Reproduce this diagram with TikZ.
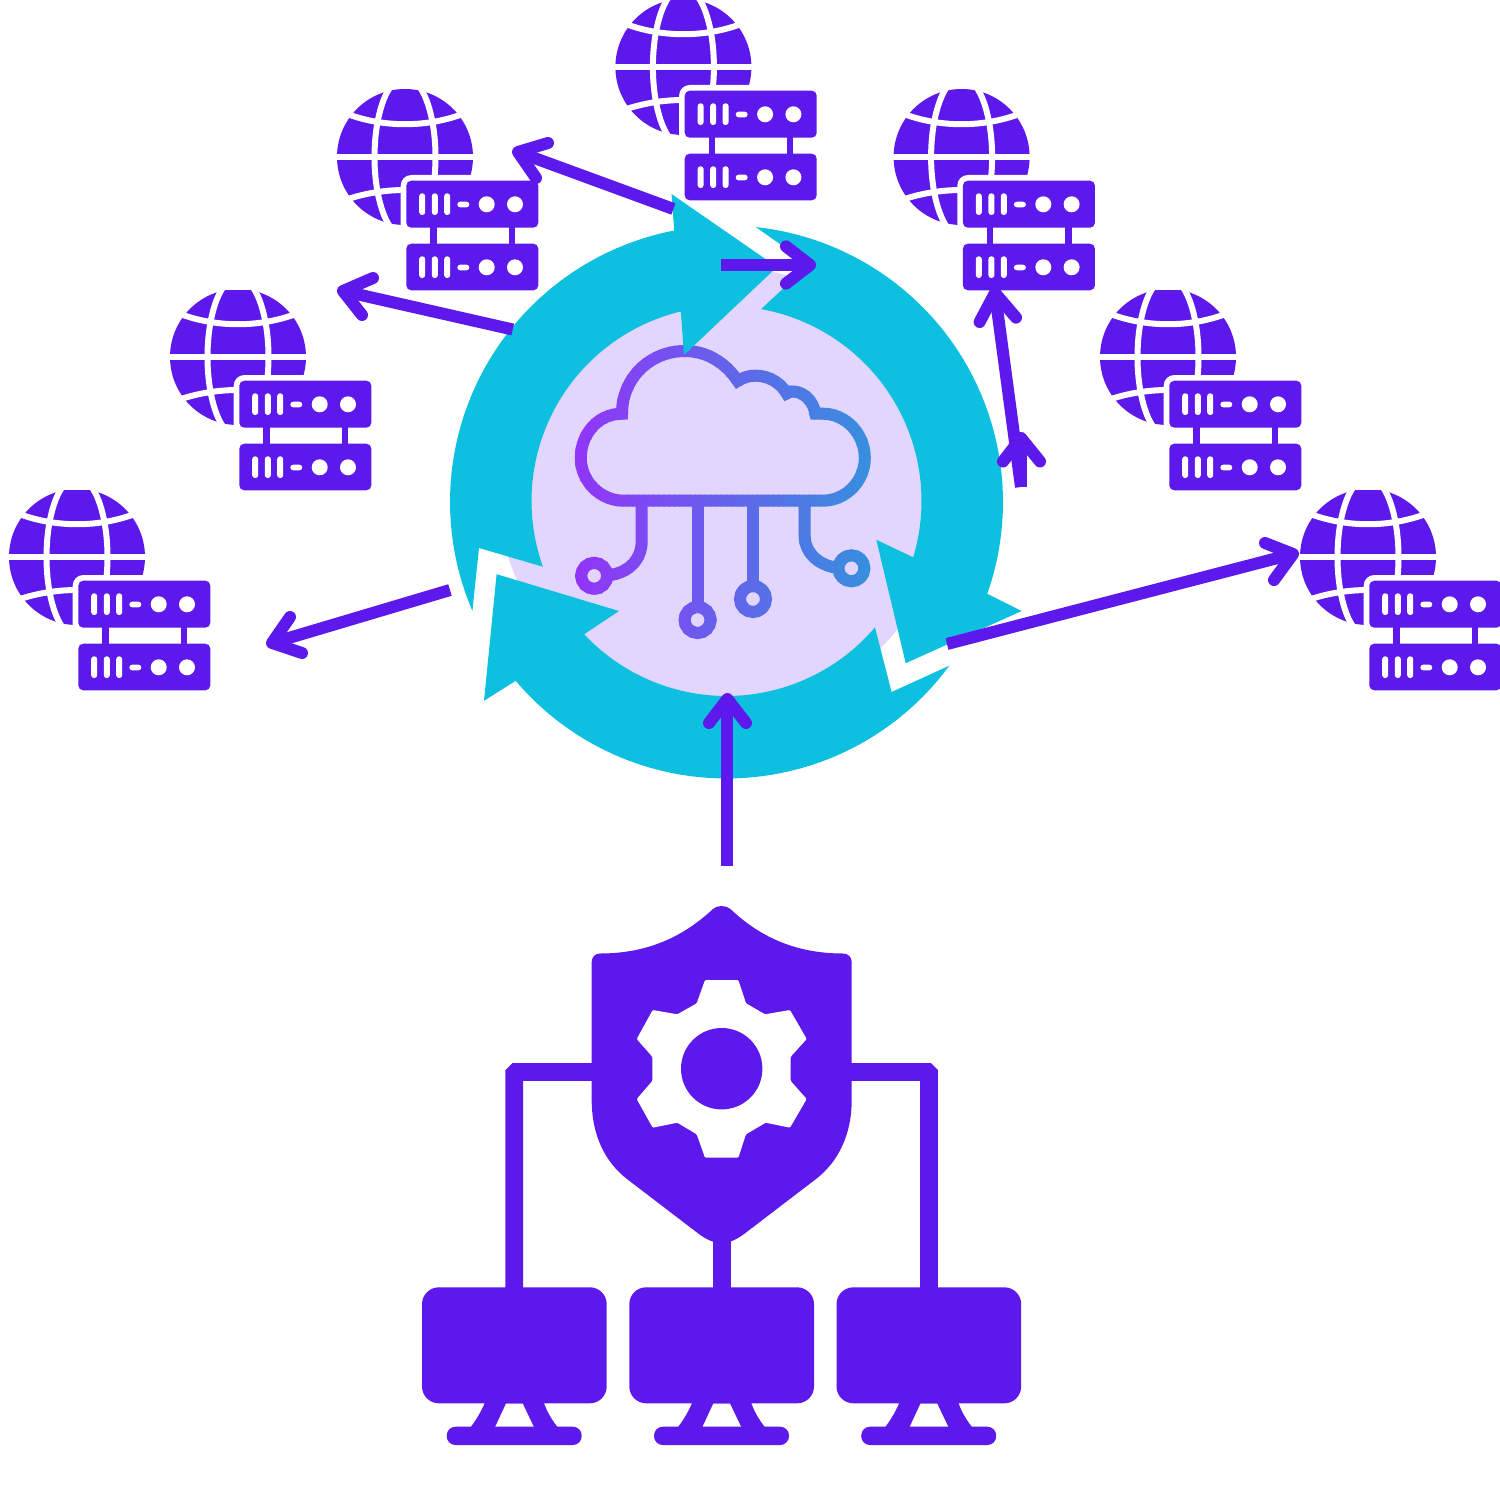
\documentclass[tikz,border=0pt]{standalone}
\definecolor{vio}{HTML}{5D18EB}
\definecolor{cya}{HTML}{0EC0E0}
\definecolor{lil}{HTML}{E2D6FF}
\definecolor{clL}{HTML}{9333F8}
\definecolor{clR}{HTML}{3492DD}
\tikzset{
  shaft/.style={draw=vio,line width=0.12cm},
  tipline/.style={draw=vio,line width=0.12cm,line cap=round,line join=round},
  pad/.style={fill=white},
  box/.style={fill=vio,rounded corners=1.4pt},
  pill/.style={fill=white,rounded corners=0.8pt},
  ring/.style={fill=cya},
  cloudline/.style={line width=12*0.01cm,line join=miter}
}
\newcommand{\globeserver}[2]{%
  \begin{scope}[shift={(#1,#2)}]
    \begin{scope}
      \clip (300,90) rectangle (500,240);
      \fill[vio] (405,157) circle[radius=68];
    \end{scope}
    \draw[white,line width=0.065cm] (335,157) -- (475,157);
    \draw[white,line width=0.06cm] (350,115) .. controls (385,127.3) and (425,127.3) .. (460,115);
    \draw[white,line width=0.06cm] (348,199) .. controls (385,187) and (425,187) .. (462,199);
    \draw[white,line width=0.06cm] (405,157) ellipse[x radius=30.5,y radius=80];
    \fill[pad,rounded corners=3pt] (400.7,175) rectangle (560,250);
    \fill[vio] (430.3,225) rectangle (436.7,246);
    \fill[vio] (508.7,225) rectangle (515,246);
    \fill[box] (406.3,180.7) rectangle (538.3,227.7);
    \fill[box] (406.3,243.7) rectangle (538.3,290.3);
    \foreach \v in {0,63}{
      \foreach \u in {419.2,431.8,444.2}{
        \fill[pill] (\u,193.3+\v) rectangle (\u+6,215+\v);
      }
      \fill[pill] (457.3,201.7+\v) rectangle (469.3,207.3+\v);
      \fill[white] (486.7,204.3+\v) circle[radius=8];
      \fill[white] (515,204.3+\v) circle[radius=8];
    }
  \end{scope}}
\newcommand{\monitor}[1]{%
  \begin{scope}[shift={(#1,0)}]
    \fill[vio,rounded corners=4.8pt] (422,1287.3) rectangle (606.7,1403.3);
    \fill[vio,even odd rule] (486,1400) .. controls (482,1410) and (477,1419) .. (470,1428)
      -- (558.3,1428) .. controls (551,1419) and (546,1410) .. (543,1400) -- cycle
      (506,1403.3) -- (495,1427) -- (534,1427) -- (522.7,1403.3) -- cycle;
    \fill[vio,rounded corners=2.5pt] (446.7,1426.7) rectangle (581.7,1445);
  \end{scope}}
\newcommand{\cloudlines}{%
  \draw[cloudline] (623.7,500.7) -- (822.7,500.7)
    .. controls (846,500.7) and (864.8,481) .. (864.8,458)
    .. controls (864.8,434) and (846,413.7) .. (822.7,413.7) -- (815.4,413.7)
    .. controls (813,400) and (803,391) .. (791,391.5) -- (786.7,393.5)
    .. controls (780,382) and (768,375.7) .. (755.7,375.7)
    .. controls (749,375.7) and (743,377.5) .. (737.7,381)
    .. controls (725,362) and (706,351) .. (685,351)
    .. controls (650,351) and (622,378) .. (622,413.7)
    .. controls (598,413.7) and (580.8,434) .. (580.8,458)
    .. controls (580.8,481) and (600,500.7) .. (623.7,500.7) -- cycle;
  \draw[cloudline] (641.7,500) -- (641.7,541) .. controls (641.7,560) and (628,574) .. (606,575.5);
  \draw[cloudline] (697.6,500) -- (697.6,607);
  \draw[cloudline] (753,500) -- (753,586);
  \draw[cloudline] (804.7,500) -- (804.7,536) .. controls (804.7,552) and (818,566) .. (839,568);
  \draw[cloudline] (594.2,575.8) circle[radius=13];
  \draw[cloudline] (697.6,620) circle[radius=13];
  \draw[cloudline] (753,599) circle[radius=13];
  \draw[cloudline] (851.4,568.3) circle[radius=13];}
\begin{document}
\begin{tikzpicture}[x=0.01cm,y=-0.01cm]
\useasboundingbox (0,0) rectangle (1500,1500);
\fill[white] (0,0) rectangle (1500,1500);

% lilac disc and cloud
\fill[lil] (722,490) circle[radius=224];
\foreach \i in {0,...,59}{
  \pgfmathsetmacro\m{100*\i/59}
  \begin{scope}
    \clip ({570+5.2*\i},330) rectangle ({570+5.2*\i+6.2},660);
    \tikzset{cloudline/.append style={draw=clR!\m!clL}}
    \cloudlines
  \end{scope}
}

% ring arrows
\fill[ring] plot[domain=156.8:259.1,samples=50] ({726.5+276.5*cos(\x)},{502+276.5*sin(\x)})
  -- (671.5,194) -- (777,267) -- (684,355) -- (681,313.6)
  -- plot[domain=256.4:160.3,samples=50] ({726.5+195*cos(\x)},{501+195*sin(\x)})
  -- (479,548) -- cycle;
\fill[ring] plot[domain=276.1:379.4,samples=50] ({726.5+276.5*cos(\x)},{502+276.5*sin(\x)})
  -- (1021.7,611) -- (905.7,663.2) -- (876.3,539.8) -- (913.8,557.6)
  -- plot[domain=376.8:280.2,samples=50] ({726.5+195*cos(\x)},{501+195*sin(\x)})
  -- (809,264.6) -- cycle;
\fill[ring] plot[domain=36.3:139.7,samples=50] ({726.5+276.5*cos(\x)},{502+276.5*sin(\x)})
  -- (484,700.8) -- (496.6,574.2) -- (619,611) -- (583.5,634.7)
  -- plot[domain=136.9:40.4,samples=50] ({726.5+195*cos(\x)},{501+195*sin(\x)})
  -- (891.6,692) -- cycle;

% servers
\globeserver{0}{0}
\globeserver{278.4}{-90}
\globeserver{556.6}{0}
\globeserver{-167}{200}
\globeserver{-328}{400}
\globeserver{763}{200}
\globeserver{963}{400}

% connectors of the lower tree
\draw[vio,line width=0.177cm,rounded corners=0.5pt] (600,1072) -- (514.3,1072) -- (514.3,1295);
\draw[vio,line width=0.177cm,rounded corners=0.5pt] (840,1072) -- (929,1072) -- (929,1295);
\draw[vio,line width=0.177cm] (721.7,1235) -- (721.7,1295);

% shield
\fill[vio] (713,909) .. controls (717,905) and (726,905) .. (730.4,909)
  .. controls (758,935) and (793,953.5) .. (843,953.5)
  .. controls (848,953.5) and (851.7,957) .. (851.7,962)
  -- (851.7,1100) .. controls (851.7,1135) and (838,1162) .. (816,1179)
  -- (748,1231) .. controls (738,1239) and (730,1243) .. (721.7,1243)
  .. controls (713,1243) and (705,1239) .. (695,1231)
  -- (627,1179) .. controls (605,1162) and (591.7,1135) .. (591.7,1100)
  -- (591.7,962) .. controls (591.7,957) and (595,953.5) .. (600,953.5)
  .. controls (650,953.5) and (685,935) .. (713,909) -- cycle;
\fill[white,rounded corners=0.3pt] (705,980) -- (738.3,980) -- (746,1003.3) -- (765,1014.3)
  -- (790,1010) -- (806.7,1039) -- (790.7,1056.7) -- (790.7,1081) -- (806.7,1099)
  -- (790,1127.7) -- (765.7,1122.7) -- (746,1134.3) -- (738.3,1157.7) -- (705,1157.7)
  -- (696.7,1134.3) -- (677.3,1122.7) -- (652.7,1127.7) -- (636.7,1099) -- (652.3,1081)
  -- (652.3,1056.7) -- (636.7,1039) -- (652.7,1010) -- (677.3,1014.3) -- (696.7,1003.3) -- cycle;
\fill[vio] (721.7,1068.7) circle[radius=40.7];

% monitors
\monitor{0}
\monitor{207.3}
\monitor{414.5}

% arrows
\coordinate (a1s) at (727.4,866); \coordinate (a1t) at (727.4,699);
\coordinate (a1l) at (709,723);   \coordinate (a1r) at (746,723);
\draw[shaft] (a1s) -- (a1t);
\draw[tipline] (a1l) -- (a1t) -- (a1r);

\coordinate (a2s) at (721,265); \coordinate (a2t) at (810,265);
\coordinate (a2l) at (786,246.4); \coordinate (a2r) at (786,283.6);
\draw[shaft] (a2s) -- (a2t);
\draw[tipline] (a2l) -- (a2t) -- (a2r);

\coordinate (a3s) at (673.4,209); \coordinate (a3t) at (518,152);
\coordinate (a3l) at (548,143); \coordinate (a3r) at (536,178);
\draw[shaft] (a3s) -- (a3t);
\draw[tipline] (a3l) -- (a3t) -- (a3r);

\coordinate (a4s) at (512.7,329.5); \coordinate (a4t) at (343,291);
\coordinate (a4l) at (373,278); \coordinate (a4r) at (362,315);
\draw[shaft] (a4s) -- (a4t);
\draw[tipline] (a4l) -- (a4t) -- (a4r);

\coordinate (a5s) at (450,590); \coordinate (a5t) at (272,643);
\coordinate (a5l) at (290,617); \coordinate (a5r) at (302,653);
\draw[shaft] (a5s) -- (a5t);
\draw[tipline] (a5l) -- (a5t) -- (a5r);

\coordinate (a6s) at (947,644); \coordinate (a6t) at (1293,554);
\coordinate (a6l) at (1265,543); \coordinate (a6r) at (1274,580);
\draw[shaft] (a6s) -- (a6t);
\draw[tipline] (a6l) -- (a6t) -- (a6r);

\coordinate (a7s) at (1021,487); \coordinate (a7t) at (995,293);
\coordinate (a7l) at (979.6,322); \coordinate (a7r) at (1016,317.6);
\draw[shaft] (a7s) -- (a7t);
\draw[tipline] (a7l) -- (a7t) -- (a7r);

\coordinate (a8t) at (1021,438);
\coordinate (a8l) at (1003,461.5); \coordinate (a8r) at (1040,461.5);
\draw[shaft] (a7s) -- (a8t);
\draw[tipline] (a8l) -- (a8t) -- (a8r);
\end{tikzpicture}
\end{document}
